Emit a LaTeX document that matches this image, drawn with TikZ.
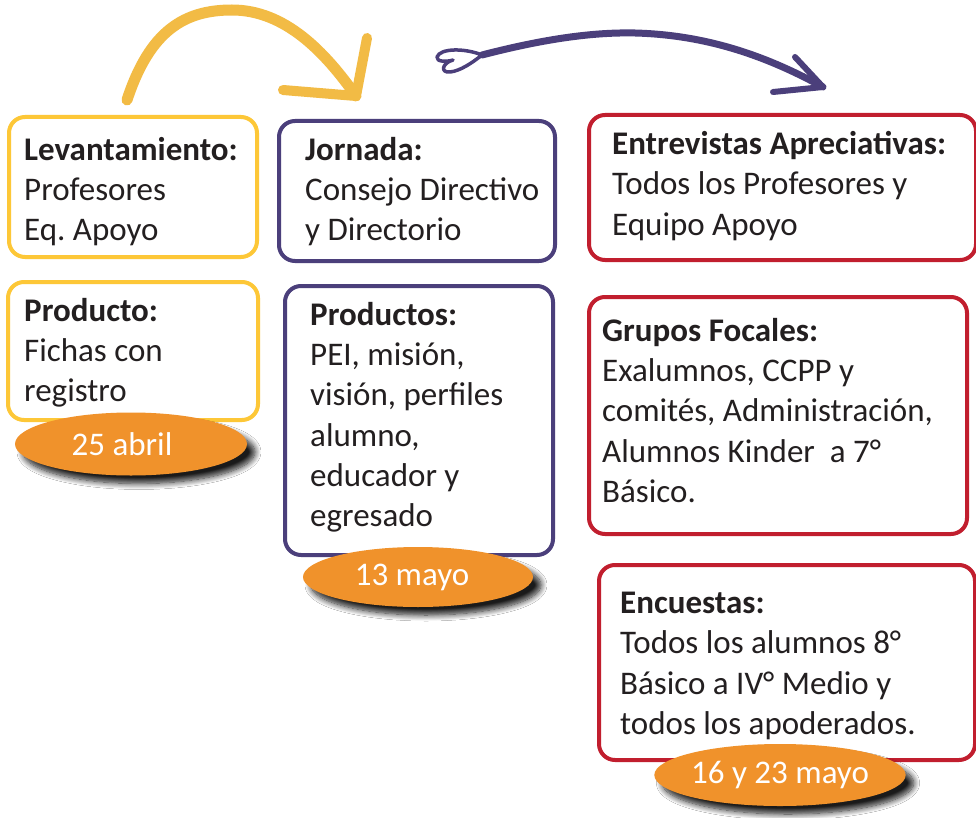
\documentclass[tikz,border=0pt]{standalone}
\usepackage{fontspec}
\setmainfont{Carlito}
\usetikzlibrary{shapes.geometric,shadows.blur}
\definecolor{ybox}{HTML}{FDC737}
\definecolor{yarrow}{HTML}{F2BB45}
\definecolor{pbox}{HTML}{4B3F7B}
\definecolor{rbox}{HTML}{C11E2E}
\definecolor{oval}{HTML}{F0922B}
\definecolor{ink}{HTML}{231F20}
\tikzset{
  box/.style={rectangle, rounded corners=16pt, line width=4pt, fill=white, inner sep=0pt, anchor=north west},
  yb/.style={box, draw=ybox},
  pb/.style={box, draw=pbox},
  rb/.style={box, draw=rbox},
  txt/.style={anchor=north west, inner sep=0pt, align=left, text=ink, font=\fontsize{33}{40.3}\selectfont},
  datebox/.style={ellipse, fill=oval, inner sep=0pt, text=white, font=\fontsize{33}{40}\selectfont,
    blur shadow={shadow xshift=8pt, shadow yshift=-8pt, shadow blur radius=6pt, shadow blur steps=10, shadow opacity=90}},
  sketchy/.style={line cap=round, line join=round},
}
\begin{document}
\begin{tikzpicture}[x=1pt,y=-1pt]
\useasboundingbox[fill=white] (0,0) rectangle (976,818);

% boxes
\node[yb, minimum width=248pt, minimum height=140pt] (y1) at (7,115) {};
\node[yb, minimum width=250pt, minimum height=138pt] (y2) at (6,280) {};
\node[pb, minimum width=276pt, minimum height=140pt] (p1) at (277,119) {};
\node[pb, minimum width=268pt, minimum height=269pt] (p2) at (283,284) {};
\node[rb, minimum width=387pt, minimum height=145pt] (r1) at (587,113) {};
\node[rb, minimum width=378pt, minimum height=237pt] (r2) at (587,295) {};
\node[rb, minimum width=376pt, minimum height=195pt] (r3) at (597,563) {};

% texts
\node[txt] (ty1) at (24,137) {\textbf{Levantamiento:}\\Profesores\\Eq.\ Apoyo};
\node[txt] (ty2) at (24,298) {\textbf{Producto:}\\Fichas con\\registro};
\node[txt] (tp1) at (305,137) {\textbf{Jornada:}\\Consejo Directivo\\y Directorio};
\node[txt] (tp2) at (310,302) {\textbf{Productos:}\\PEI, misión,\\visión, perfiles\\alumno,\\educador y\\egresado};
\node[txt] (tr1) at (612,131) {\textbf{Entrevistas Apreciativas:}\\Todos los Profesores y\\Equipo Apoyo};
\node[txt] (tr2) at (602,318) {\textbf{Grupos Focales:}\\Exalumnos, CCPP y\\comités, Administración,\\Alumnos Kinder\ \ a 7°\\Básico.};
\node[txt] (tr3) at (620,592) {\textbf{Encuestas:}\\Todos los alumnos 8°\\Básico a IV° Medio y\\todos los apoderados.};

% dates
\node[datebox, minimum width=232pt, minimum height=63pt] (d1) at (131,444) {\hspace*{-18pt}25 abril};
\node[datebox, minimum width=230pt, minimum height=60pt] (d2) at (418,577) {\hspace*{-12pt}13 mayo};
\node[datebox, minimum width=230pt, minimum height=62pt] (d3) at (780,775) {16 y 23 mayo};

% yellow arrow
\coordinate (ya0) at (127,100);
\coordinate (ya1) at (232,10);
\coordinate (yatip) at (356,96);
\coordinate (yab1) at (283,90);
\coordinate (yab2) at (367,38);
\draw[sketchy, draw=yarrow, line width=11pt] (ya0) .. controls (150,30) and (185,10) .. (ya1) .. controls (285,10) and (325,52) .. (yatip);
\draw[sketchy, draw=yarrow, line width=10pt] (yab1) -- (yatip) -- (yab2);

% purple arrow
\coordinate (pa0) at (482,55);
\coordinate (pa1) at (635,33);
\coordinate (patip) at (823,87);
\coordinate (pab1) at (773,92);
\coordinate (pab2) at (795,57);
\draw[sketchy, draw=pbox, line width=7pt] (pa0) .. controls (540,40) and (590,32) .. (pa1) .. controls (710,35) and (770,58) .. (patip);
\draw[sketchy, draw=pbox, line width=6pt] (pab1) -- (patip) -- (pab2);
\draw[sketchy, draw=pbox, line width=3.5pt] (pa0) .. controls (465,48) and (440,48) .. (437,57) .. controls (436,62) and (447,62) .. (453,60) .. controls (442,63) and (440,73) .. (450,72) .. controls (460,71) and (472,63) .. (pa0);
\end{tikzpicture}
\end{document}
